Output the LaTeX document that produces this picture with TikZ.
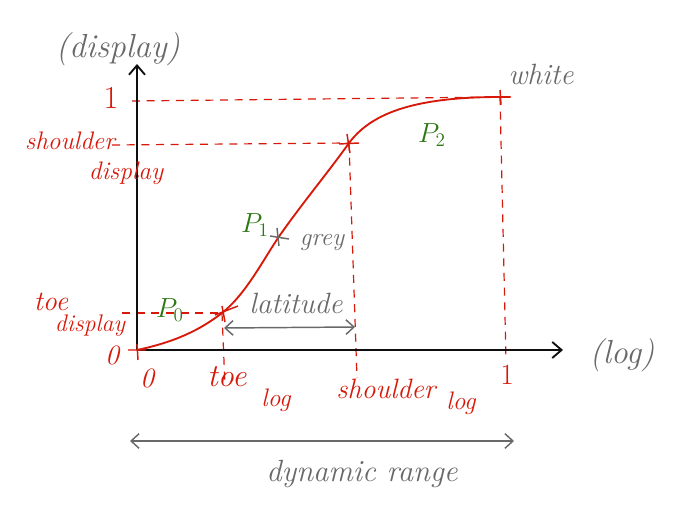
\documentclass[tikz,border=0pt]{standalone}
\usetikzlibrary{arrows.meta}
\definecolor{ink}{RGB}{15,15,15}
\definecolor{redink}{RGB}{215,25,10}
\definecolor{greenink}{RGB}{45,120,20}
\definecolor{grayink}{RGB}{105,105,105}
\begin{document}
\begin{tikzpicture}[x=0.75pt,y=-0.75pt,
  axis/.style={draw=ink,line width=1.4pt,-{Straight Barb[length=7pt,width=12pt,line width=1.4pt]}},
  curve/.style={draw=redink,line width=1.4pt},
  guide/.style={draw=redink,line width=0.9pt,dash pattern=on 6pt off 5pt},
  redcross/.style={draw=redink,line width=1.1pt},
  graycross/.style={draw=grayink,line width=1.1pt},
  span/.style={draw=grayink,line width=1.1pt,{Straight Barb[length=6pt,width=11pt,line width=1.1pt]}-{Straight Barb[length=6pt,width=11pt,line width=1.1pt]}},
  redtxt/.style={text=redink,font=\itshape\fontsize{19}{20}\selectfont,inner sep=0pt},
  greentxt/.style={text=greenink,font=\itshape\fontsize{22}{24}\selectfont,inner sep=0pt},
  graytxt/.style={text=grayink,font=\itshape\fontsize{20}{22}\selectfont,inner sep=0pt}]
\useasboundingbox (0,0) rectangle (690,524);
% key points
\coordinate (O) at (137,350);
\coordinate (T) at (222,313);
\coordinate (G) at (278,238);
\coordinate (S) at (349,143);
\coordinate (W) at (500,97);
\coordinate (E) at (510,97);
\coordinate (ytip) at (137,64);
\coordinate (xtip) at (563,350);
% guide lines
\coordinate (h1a) at (132,101);
\coordinate (h2a) at (112,145);
\coordinate (h3a) at (122,313);
\coordinate (v1b) at (225,386);
\coordinate (v2b) at (357,378);
\coordinate (v3b) at (506,360);
\draw[guide] (h1a) -- (W);
\draw[guide] (h2a) -- (S);
\draw[guide] (h3a) -- (T);
\draw[guide] (T) -- (v1b);
\draw[guide] (S) -- (v2b);
\draw[guide] (W) -- (v3b);
% axes
\draw[axis] (O) -- (ytip);
\draw[axis] (O) -- (xtip);
% curve
\draw[curve] (O) .. controls (175,342) and (200,330) .. (T)
  .. controls (245,295) and (262,262) .. (G)
  .. controls (300,206) and (330,170) .. (S)
  .. controls (370,115) and (410,97) .. (W) -- (E);
% crosses
\draw[redcross] (128,350) -- (146,350) (137,344) -- (138,360);
\draw[redcross] (215,315) -- (238,306) (222,306) -- (225,322);
\draw[graycross] (270,236) -- (289,239) (277,228) -- (279,246);
\draw[redcross] (339,144) -- (359,143) (347,134) -- (350,153);
\draw[redcross] (489,97) -- (511,97) (500,90) -- (501,105);
% spans
\coordinate (la) at (224,328);
\coordinate (lb) at (355,327);
\draw[span] (la) -- (lb);
\coordinate (da) at (130,441);
\coordinate (db) at (514,441);
\draw[span] (da) -- (db);
% axis labels
\node[graytxt,font=\itshape\fontsize{25}{27}\selectfont] (ylab) at (118,49) {(display)};
\node[graytxt,font=\itshape\fontsize{25}{27}\selectfont] (xlab) at (622,355) {(log)};
% red labels
\node[redtxt,font=\fontsize{24}{26}\selectfont] (one) at (111,98) {1};
\node[redtxt] (shd) at (70,141) {shoulder};
\node[redtxt] (shd2) at (126,173) {display};
\node[redtxt,font=\itshape\fontsize{21}{22}\selectfont] (toed) at (51,302) {toe};
\node[redtxt,font=\itshape\fontsize{18}{19}\selectfont] (toed2) at (90,326) {display};
\node[redtxt,font=\itshape\fontsize{21}{22}\selectfont] (zeroy) at (112,355) {0};
\node[redtxt,font=\itshape\fontsize{21}{22}\selectfont] (zerox) at (147,378) {0};
\node[redtxt,font=\itshape\fontsize{24}{26}\selectfont] (toel) at (227,377) {toe};
\node[redtxt] (toel2) at (276,400) {log};
\node[redtxt,font=\itshape\fontsize{21}{22}\selectfont] (shl) at (386,389) {shoulder};
\node[redtxt] (shl2) at (461,403) {log};
\node[redtxt,font=\fontsize{22}{24}\selectfont] (onex) at (507,375) {1};
% green labels
\node[greentxt] (p0) at (170,310) {$P_0$};
\node[greentxt] (p1) at (255,225) {$P_1$};
\node[greentxt] (p2) at (432,135) {$P_2$};
% gray labels
\node[graytxt,font=\itshape\fontsize{19}{20}\selectfont] (grey) at (322,242) {grey};
\node[graytxt,font=\itshape\fontsize{22}{24}\selectfont] (lat) at (296,303) {latitude};
\node[graytxt,font=\itshape\fontsize{22}{24}\selectfont] (white) at (541,74) {white};
\node[graytxt,font=\itshape\fontsize{23}{25}\selectfont] (dr) at (362,474) {dynamic range};
\end{tikzpicture}
\end{document}
